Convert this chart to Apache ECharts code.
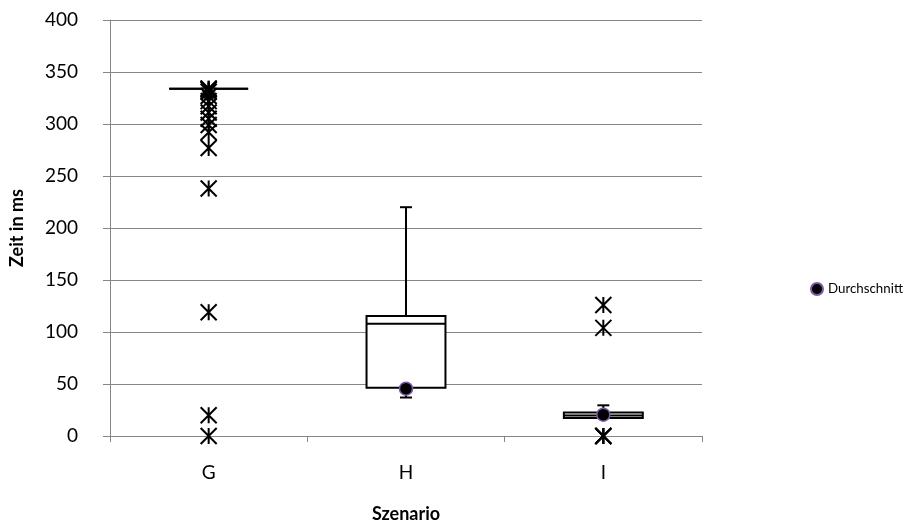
<!DOCTYPE html>
<html>
<head>
<meta charset="utf-8">
<script src="https://cdn.jsdelivr.net/npm/echarts@6/dist/echarts.min.js"></script>
<style>html,body{margin:0;padding:0;background:#fff}#c{width:905px;height:528px}</style>
</head>
<body>
<div id="c"></div>
<script>
const categories = ['G', 'H', 'I'];
const boxMin = [334, 37, 17.3];
const boxQ1 = [334, 46.5, 17.3];
const boxMedian = [334, 108, 19.8];
const boxQ3 = [334, 115.5, 22.5];
const boxMax = [334, 220, 29.5];
const means = [329, 45.5, 20.5];
const outliersG = [334, 334, 333, 331, 327, 322, 317, 311, 305, 299, 292, 277, 238, 119, 20, 0];
const outliersH = [];
const outliersI = [126, 104, 0, 0, 0];
const yTicks = [0, 50, 100, 150, 200, 250, 300, 350, 400];

const FONT = 'Lato';
const boxData = categories.map((c, i) => [i, boxMin[i], boxQ1[i], boxMedian[i], boxQ3[i], boxMax[i]]);
const meanData = categories.map((c, i) => [i, means[i]]);
const outlierData = [];
[outliersG, outliersH, outliersI].forEach((arr, i) => arr.forEach(v => outlierData.push([i, v])));

const chart = echarts.init(document.getElementById('c'), null, {renderer: 'canvas'});
chart.setOption({
  animation: false,
  backgroundColor: '#fff',
  textStyle: {fontFamily: FONT},
  grid: {left: 108, right: 203, top: 20, bottom: 84, containLabel: false},
  legend: {
    data: [{name: 'Durchschnitt', icon: 'circle'}],
    left: 805, top: 277, orient: 'vertical',
    itemWidth: 12, itemHeight: 12, itemGap: 4,
    textStyle: {fontFamily: FONT, fontSize: 13.3, color: '#000'}
  },
  xAxis: {
    type: 'category', data: categories, boundaryGap: true,
    axisLine: {lineStyle: {color: '#868686', width: 1}},
    axisTick: {show: true, length: 6, lineStyle: {color: '#868686'}},
    axisLabel: {color: '#000', fontSize: 19, fontFamily: FONT, margin: 27},
    name: 'Szenario', nameLocation: 'middle', nameGap: 69,
    nameTextStyle: {color: '#000', fontSize: 18, fontWeight: 'bold', fontFamily: FONT},
    splitLine: {show: false}
  },
  yAxis: {
    type: 'value', min: yTicks[0], max: yTicks[yTicks.length - 1], interval: 50,
    axisLine: {show: true, lineStyle: {color: '#868686', width: 1}},
    axisTick: {show: true, length: 7, lineStyle: {color: '#868686'}},
    axisLabel: {color: '#000', fontSize: 19, fontFamily: FONT, margin: 32},
    splitLine: {show: true, lineStyle: {color: '#868686', width: 1}},
    name: 'Zeit in ms', nameLocation: 'middle', nameGap: 84, nameRotate: 90,
    nameTextStyle: {color: '#000', fontSize: 18, fontWeight: 'bold', fontFamily: FONT}
  },
  series: [
    {
      name: 'Box', type: 'custom', z: 3,
      encode: {x: 0, y: [1, 2, 3, 4, 5]},
      data: boxData,
      renderItem: function (params, api) {
        const idx = api.value(0);
        const pMin = api.coord([idx, api.value(1)]);
        const pQ1 = api.coord([idx, api.value(2)]);
        const pMed = api.coord([idx, api.value(3)]);
        const pQ3 = api.coord([idx, api.value(4)]);
        const pMax = api.coord([idx, api.value(5)]);
        const bw = api.size([1, 0])[0] * 0.4;
        const cap = 12;
        const cx = pMed[0];
        const st = {stroke: '#000', lineWidth: 2, fill: 'none'};
        return {
          type: 'group',
          children: [
            {type: 'line', shape: {x1: cx, y1: pQ3[1], x2: cx, y2: pMax[1]}, style: st},
            {type: 'line', shape: {x1: cx - cap / 2, y1: pMax[1], x2: cx + cap / 2, y2: pMax[1]}, style: st},
            {type: 'line', shape: {x1: cx, y1: pQ1[1], x2: cx, y2: pMin[1]}, style: st},
            {type: 'line', shape: {x1: cx - cap / 2, y1: pMin[1], x2: cx + cap / 2, y2: pMin[1]}, style: st},
            {type: 'rect', shape: {x: cx - bw / 2, y: pQ3[1], width: bw, height: pQ1[1] - pQ3[1]}, style: {stroke: '#000', lineWidth: 2, fill: '#fff'}},
            {type: 'line', shape: {x1: cx - bw / 2, y1: pMed[1], x2: cx + bw / 2, y2: pMed[1]}, style: st}
          ]
        };
      }
    },
    {
      name: 'Durchschnitt', type: 'scatter', z: 4,
      data: meanData,
      symbol: 'circle', symbolSize: 13,
      itemStyle: {color: '#000', borderColor: '#7b5aa6', borderWidth: 1.5, opacity: 1}
    },
    {
      name: 'Ausreißer', type: 'scatter', z: 5,
      data: outlierData,
      symbol: 'path://M0,0L16,16M16,0L0,16M8,0L8,16',
      symbolSize: 16,
      itemStyle: {color: 'none', borderColor: '#000', borderWidth: 2, opacity: 1}
    }
  ]
});
</script>
</body>
</html>
